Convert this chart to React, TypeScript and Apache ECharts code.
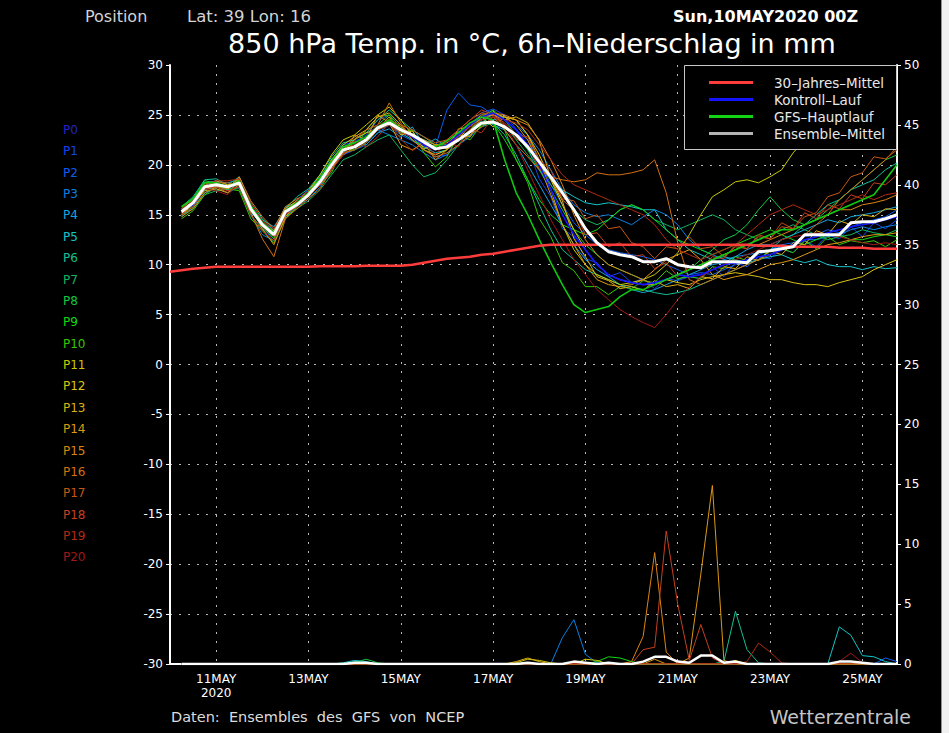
import React, { useEffect, useRef } from "react";
import * as echarts from "echarts";

const FONT = "'DejaVu Sans', 'Liberation Sans', sans-serif";

// time axis: 6-hourly steps from 10 MAY 2020 00Z (index 0) to 25 MAY 18Z (index 63)
const HOURS: string[] = Array.from({ length: 64 }, (_, i) => String(i * 6));
const TICK_INDEX = [4, 12, 20, 28, 36, 44, 52, 60];
const TICK_LABELS = ["11MAY\n2020", "13MAY", "15MAY", "17MAY", "19MAY", "21MAY", "23MAY", "25MAY"];

const MEMBER_NAMES = ["P0", "P1", "P2", "P3", "P4", "P5", "P6", "P7", "P8", "P9", "P10",
  "P11", "P12", "P13", "P14", "P15", "P16", "P17", "P18", "P19", "P20"];
const MEMBER_COLORS = ["#2424c4", "#1444f0", "#0c5ef0", "#0a80e0", "#12a6dc", "#12c4c8", "#10c092",
  "#10b460", "#12c842", "#12d812", "#34c800", "#c8c800", "#dcc412", "#dcae12", "#dc9812",
  "#dc8412", "#d27012", "#c45812", "#c44020", "#b02a14", "#a01818"];

// 850 hPa temperature (°C), index 1..63
const P1_T = [15.0,16.5,18.2,18.4,17.5,18.8,16.0,13.5,12.6,15.0,16.5,17.5,
  18.8,20.5,22.0,22.3,23.0,24.5,25.0,23.8,22.5,21.5,20.8,21.0,22.8,24.0,25.2,25.6,
  25.0,23.6,21.8,18.6,16.8,13.6,12.8,10.6,10.2,8.8,9.2,8.2,8.6,7.6,8.6,8.4,8.8,8.6,9.8,8.8,
  10.2,9.8,10.8,10.6,11.6,11.2,12.4,11.8,13.0,12.6,13.8,12.8,14.2,13.6,14.5];
const P2_T = [15.6,16.0,17.5,17.8,18.0,18.0,15.2,14.2,13.5,15.8,16.2,16.8,
  18.0,19.6,21.0,21.5,22.0,23.2,24.0,23.0,22.4,21.8,21.8,25.5,27.2,26.0,25.8,25.0,
  24.5,23.5,22.5,20.5,18.0,16.0,14.2,13.0,12.0,11.5,11.2,11.0,10.8,10.5,10.0,9.5,9.0,9.2,9.0,9.5,
  10.0,10.5,11.0,11.5,12.0,12.2,12.8,13.0,13.5,13.2,13.8,14.2,14.5,14.8,15.5];
const P3_T = [14.8,15.8,17.2,17.6,17.2,17.8,15.0,13.0,12.4,14.8,15.8,16.6,
  17.8,19.5,21.2,22.0,22.8,23.5,23.0,22.5,22.0,21.2,20.5,21.0,22.0,22.8,23.8,24.5,
  24.8,24.0,23.0,21.5,19.5,17.5,16.0,15.2,14.8,15.0,14.5,14.0,14.8,15.5,15.0,14.0,12.5,11.5,11.0,10.5,
  10.8,11.0,11.2,11.5,11.8,12.0,12.5,12.5,12.8,13.0,13.5,13.8,13.5,13.8,14.0];
const P4_T = [15.4,16.4,18.0,18.3,18.2,18.5,15.8,14.5,13.8,15.5,16.0,17.2,
  18.0,20.6,21.2,22.4,22.0,23.2,23.6,22.8,23.8,22.0,22.6,21.8,23.4,22.8,24.6,24.0,
  23.5,22.0,20.0,18.0,16.0,14.0,12.0,10.5,9.5,8.8,8.0,7.5,7.2,7.5,8.0,8.5,9.0,9.5,10.0,10.2,
  10.8,11.5,12.0,12.0,12.5,13.0,13.5,14.0,14.5,14.2,14.8,15.0,15.2,15.5,15.8];
const P5_T = [15.2,16.0,17.5,17.8,17.5,18.0,15.5,13.8,12.8,15.0,16.2,17.0,
  18.2,19.8,21.5,21.8,22.5,23.5,24.0,23.2,22.5,21.8,21.2,21.5,22.5,23.5,24.5,25.0,
  24.5,23.5,22.0,20.0,18.5,17.5,16.8,16.2,16.0,16.2,16.0,15.8,15.5,15.5,13.5,12.5,11.5,11.0,10.5,10.8,
  10.5,10.2,10.5,10.8,11.0,10.5,10.2,10.5,10.0,9.8,9.8,9.5,9.8,9.6,9.7];
const P6_T = [15.8,16.8,18.5,18.6,18.0,18.8,16.2,14.6,13.4,15.6,16.8,17.6,
  19.0,20.8,22.2,22.5,23.2,24.5,25.5,24.5,23.5,22.8,22.0,22.0,22.5,23.0,23.8,24.2,
  23.0,21.0,18.5,16.0,13.5,11.5,10.5,9.5,9.0,8.5,8.0,7.8,7.5,7.2,7.0,7.2,7.5,8.0,8.5,9.0,
  9.5,10.0,10.5,11.5,12.5,13.0,14.0,15.0,16.0,16.5,17.5,18.0,18.5,19.5,20.2];
const P7_T = [15.0,15.6,17.0,17.4,17.6,17.6,15.0,13.6,12.8,14.8,15.6,16.4,
  17.5,19.0,20.5,21.0,21.8,22.5,23.0,21.5,20.0,18.8,19.2,20.5,22.0,23.5,24.5,24.8,
  24.0,22.5,21.0,19.5,18.0,16.5,15.5,14.5,14.0,14.5,15.5,16.0,15.5,14.5,14.0,13.5,14.0,14.5,15.0,14.5,
  13.5,13.0,12.5,13.0,13.5,14.0,13.5,13.0,12.5,12.8,13.0,13.5,13.2,13.0,13.5];
const P8_T = [15.6,16.6,18.4,18.2,17.8,18.6,16.0,14.2,13.2,15.4,16.4,17.4,
  18.8,20.5,21.8,22.0,22.8,24.0,25.0,23.8,22.8,21.5,21.0,21.5,22.8,24.0,24.8,25.5,
  24.5,23.0,21.5,19.5,17.5,15.5,13.5,12.0,11.0,10.0,9.5,9.0,8.5,8.0,8.5,9.0,9.5,10.5,11.5,12.5,
  13.0,14.0,15.5,16.8,15.5,14.5,14.0,14.5,15.5,16.5,17.5,18.5,19.5,20.5,21.0];
const P9_T = [15.2,16.2,17.8,18.0,17.8,18.0,15.4,13.8,12.6,15.0,16.0,17.0,
  18.4,20.0,21.2,21.5,22.2,23.5,24.2,23.5,23.0,22.5,22.0,22.0,22.5,23.2,24.0,24.2,
  22.5,20.5,18.5,16.5,15.0,14.0,13.5,13.0,13.5,14.5,15.5,16.0,15.5,14.5,13.5,12.5,12.0,11.5,11.0,11.5,
  12.0,12.5,13.0,13.5,13.0,12.5,12.0,12.5,13.0,13.0,12.5,12.5,12.8,13.0,12.8];
const P10_T = [14.6,15.4,17.0,17.8,17.6,17.4,14.6,13.4,12.2,14.6,15.8,16.8,
  18.0,19.2,21.8,21.5,23.5,24.8,25.0,23.2,23.5,21.2,19.8,20.8,23.0,22.5,24.0,25.5,
  23.5,20.5,18.2,14.6,12.8,10.2,9.4,7.8,7.8,7.0,7.8,7.6,8.4,8.2,9.4,8.6,8.8,8.6,9.8,9.6,
  10.8,10.4,11.4,11.0,11.6,11.2,12.4,11.6,12.8,12.0,12.4,12.2,12.4,11.8,12.5];
const P11_T = [15.0,16.0,17.6,18.0,17.6,18.4,15.8,14.0,12.8,15.2,16.4,17.4,
  19.0,21.0,22.5,23.0,24.0,25.0,25.8,24.5,23.0,22.0,21.5,21.8,22.5,23.5,24.8,25.2,
  24.8,24.5,23.0,20.5,17.5,14.0,11.5,10.0,9.0,8.5,8.0,8.2,8.5,9.0,10.0,11.2,13.0,15.0,16.8,17.5,
  18.3,18.5,18.2,18.8,19.5,21.2,22.5,23.5,24.5,25.0,25.5,26.0,26.0,26.5,27.0];
const P12_T = [15.4,16.4,18.0,18.4,18.0,18.2,15.4,14.2,13.0,15.4,16.0,16.8,
  18.2,20.4,21.0,22.6,23.2,23.6,24.8,23.0,23.4,21.6,22.0,21.6,23.6,23.8,24.8,23.8,
  24.8,24.5,23.0,21.0,18.5,16.0,13.5,11.5,10.0,9.0,8.5,8.2,8.0,8.0,8.5,8.2,8.0,8.5,8.8,9.0,
  9.2,9.0,8.8,8.5,8.5,8.2,8.0,8.0,7.8,8.2,8.5,8.8,9.5,10.0,10.5];
const P13_T = [15.2,16.0,17.4,17.6,17.2,18.0,15.6,14.0,13.4,15.6,16.4,17.4,
  18.6,20.5,22.0,22.8,23.5,24.8,25.2,24.0,22.5,21.5,21.0,21.5,22.5,24.0,25.0,25.0,
  24.5,24.8,24.2,22.4,18.6,16.4,12.6,10.8,8.8,8.4,7.6,7.8,7.4,8.4,7.8,8.0,7.6,8.8,8.6,9.8,
  9.6,10.8,10.4,11.4,11.0,12.2,12.0,13.4,13.0,14.4,14.0,15.0,14.8,15.6,15.5];
const P14_T = [14.8,15.6,17.2,17.8,17.8,18.6,15.8,13.6,12.0,14.8,16.0,17.2,
  18.5,20.5,21.0,23.0,22.5,25.0,24.2,22.0,21.5,22.2,20.5,21.5,23.0,22.8,24.8,25.0,
  24.8,24.0,22.5,20.0,17.0,14.0,12.0,10.0,8.5,8.0,7.8,8.0,8.5,9.5,10.5,11.0,11.5,10.5,9.0,8.5,
  8.8,9.0,9.5,10.0,10.2,10.5,11.0,11.5,12.0,12.2,12.5,12.8,13.0,13.0,13.2];
const P15_T = [15.6,16.6,18.2,18.0,17.6,18.8,16.4,14.8,13.6,15.8,16.6,17.0,
  18.0,19.6,21.0,21.8,22.5,23.8,24.5,23.8,23.0,22.5,22.0,22.2,23.0,24.0,24.8,25.2,
  25.0,24.5,24.0,22.5,20.5,18.0,15.0,12.5,11.0,10.0,9.5,9.0,8.5,8.0,8.5,9.0,9.5,10.0,10.5,11.0,
  11.5,12.0,12.0,12.5,13.0,13.5,14.0,14.5,15.0,15.5,15.5,16.0,16.2,16.5,17.0];
const P16_T = [15.0,15.8,17.6,17.8,17.2,18.4,15.2,12.6,10.8,14.6,15.6,16.6,
  17.6,19.5,21.5,22.5,23.5,24.0,26.2,24.2,22.5,21.5,20.8,21.2,22.0,23.0,23.8,24.8,
  23.5,22.0,20.8,19.5,18.8,18.5,18.3,18.5,19.2,19.0,19.0,19.2,19.5,20.5,17.2,12.2,8.5,8.0,8.5,9.0,
  9.5,10.0,10.5,11.0,11.5,12.0,13.0,14.0,15.0,16.5,17.5,18.5,19.5,20.5,21.8];
const P17_T = [15.4,16.2,17.8,18.2,18.2,18.0,15.4,14.4,13.2,15.2,16.2,17.0,
  18.2,19.8,21.2,21.5,22.2,23.5,24.5,24.0,23.5,22.8,22.2,22.5,23.5,24.5,25.2,25.0,
  24.0,22.6,22.0,19.6,18.8,16.6,16.4,14.6,15.0,13.6,13.8,12.2,11.8,10.6,11.8,11.6,12.8,11.6,11.8,10.8,
  11.8,11.6,12.8,12.6,13.8,13.6,14.8,15.2,16.8,17.2,18.8,19.2,20.8,20.6,21.5];
const P18_T = [15.0,16.2,17.6,17.8,17.4,17.8,15.0,13.4,12.4,15.0,15.8,16.8,
  18.0,19.8,21.5,22.0,22.5,23.5,24.0,23.2,22.8,22.0,21.8,22.5,23.5,24.5,25.5,25.0,
  24.2,23.0,22.8,20.5,19.5,16.5,15.5,13.0,13.2,11.8,12.2,10.8,11.0,9.6,10.2,8.8,9.8,9.6,10.8,10.6,
  12.0,11.6,13.0,12.6,14.2,13.6,15.2,14.6,16.0,15.6,17.0,16.6,18.2,18.0,19.0];
const P19_T = [15.6,16.4,18.0,18.4,18.4,18.6,16.2,14.4,13.6,15.4,16.2,17.2,
  18.6,19.5,21.0,22.4,21.8,22.8,24.2,22.6,21.4,22.2,21.0,22.4,21.8,23.6,23.2,24.8,
  24.5,24.2,23.5,22.0,20.5,19.0,18.0,17.5,17.0,16.5,16.0,15.5,15.0,14.0,12.5,11.5,11.0,10.5,11.0,11.5,
  12.0,13.0,14.0,15.0,15.5,16.0,15.5,15.0,15.5,16.0,16.5,17.0,16.5,17.0,17.2];
const P20_T = [15.2,16.2,17.6,17.4,17.0,18.2,15.6,13.8,12.8,15.0,16.4,17.4,
  18.4,20.2,21.5,22.0,22.8,24.0,24.5,23.5,22.8,22.0,21.5,21.8,22.8,23.8,24.5,24.8,
  24.0,22.0,19.5,17.0,14.5,12.5,10.5,9.0,7.5,6.5,5.5,4.8,4.2,3.7,5.0,6.5,7.8,8.8,9.5,10.0,
  10.5,11.0,11.5,12.0,12.5,12.8,13.0,13.2,13.0,12.8,12.5,12.2,12.0,12.2,12.0];
const CONTROL_T = [15.4,16.0,17.8,18.0,17.8,18.2,15.6,14.0,13.0,15.2,16.0,17.0,
  18.2,20.0,21.5,21.8,22.5,23.8,24.2,23.5,22.8,22.0,21.5,22.0,23.0,24.0,24.8,25.2,
  24.5,23.5,22.0,20.0,17.5,15.0,13.0,11.5,10.0,9.0,8.5,8.2,8.0,8.2,8.5,9.0,8.8,9.0,9.5,10.0,
  10.2,10.5,10.8,11.0,11.5,12.0,12.5,12.8,13.2,13.5,13.8,14.0,14.2,14.5,14.8];
const GFS_T = [15.8,16.6,18.2,18.2,17.8,18.4,15.8,14.2,13.2,15.4,16.2,17.2,
  18.6,20.4,21.8,22.2,22.8,23.8,24.5,23.6,23.0,22.2,21.8,22.4,23.2,24.2,24.8,24.5,
  20.5,17.2,15.0,12.5,10.2,8.0,6.0,5.2,5.5,5.8,6.8,7.5,7.5,8.0,8.5,9.0,9.5,10.0,10.5,11.0,
  11.5,12.0,12.5,13.0,13.5,13.5,14.0,14.5,15.0,15.5,16.0,16.5,17.0,18.5,20.0];
const MEAN_T = [15.3,16.2,17.8,18.0,17.8,18.2,15.6,14.0,13.0,15.3,16.0,17.0,
  18.3,20.0,21.5,21.8,22.5,23.7,24.2,23.5,23.0,22.3,21.6,21.8,22.5,23.3,24.2,24.3,
  23.8,23.0,21.8,20.3,18.8,17.2,15.5,13.6,12.2,11.3,11.0,10.8,10.3,10.3,10.6,10.0,9.8,9.7,10.3,10.3,
  10.3,10.2,11.3,11.4,11.6,11.8,13.0,13.0,13.0,13.0,14.2,14.3,14.3,14.6,15.0];
// 30-year mean, index 0..63
const CLIM_T = [9.3,9.45,9.6,9.7,9.8,
  9.8,9.8,9.8,9.8,9.8,9.8,9.8,9.8,9.85,9.85,9.85,9.85,9.9,9.9,9.9,9.9,
  10.0,10.2,10.4,10.6,10.7,10.8,11.0,11.1,11.3,11.5,11.7,11.9,
  12.0,12.0,12.0,12.0,12.0,12.0,12.0,12.0,12.0,12.0,12.0,12.0,12.0,12.0,12.0,12.0,12.0,12.0,
  11.9,11.9,11.9,11.8,11.8,11.8,11.8,11.7,11.7,11.7,11.6,11.6,11.6];

// 6h precipitation (mm), index 1..63
const P2_RR = [0,0,0,0,0,0,0,0, 0,0,0,0,0,0,0,0, 0,0,0,0,0,0,0,0, 0,0,0,0,0,0,0,0,
  0,0,0,0,0,0,0,0, 0,0,0,0,0,0,0,0, 0,0,0,0,0,0,0,0, 0,0,0,0,0,0.5,0.2];
const P3_RR = [0,0,0,0,0,0,0,0, 0,0,0,0,0,0,0,0, 0,0,0,0,0,0,0,0, 0,0,0,0,0,0,0,0,
  0,2.2,3.7,0.8,0.1,0,0,0, 0,0,0,0,0,0,0,0, 0,0,0,0,0,0,0,0, 0,0,0,0,0,0,0];
const P5_RR = [0,0,0,0,0,0,0,0, 0,0,0,0,0,0,0.1,0.3, 0.2,0,0,0,0,0,0,0, 0,0,0,0,0,0,0,0,
  0,0,0,0,0,0,0,0, 0,0,0,0,0,0,0,0, 0,0,0,0,0,0,0,0, 0,3.1,2.4,0.7,0.6,0.2,0];
const P6_RR = [0,0,0,0,0,0,0,0, 0,0,0,0,0,0,0,0.2, 0,0,0,0,0,0,0,0, 0,0,0,0,0,0,0,0,
  0,0,0,0,0,0,0,0, 0,0,0,0,0,0,0,0.2, 4.4,1.2,0.1,0,0,0,0,0, 0,0,0,0,0,0,0];
const P8_RR = [0,0,0,0,0,0,0,0, 0,0,0,0,0,0,0,0.1, 0.4,0.1,0,0,0,0,0,0, 0,0,0,0,0,0,0,0,
  0,0,0,0,0,0,0,0, 0,0,0,0,0,0,0,0, 0,0,0,0,0,0,0,0, 0,0,0,0,0,0,0];
const P9_RR = [0,0,0,0,0,0,0,0, 0,0,0,0,0,0,0,0, 0,0,0,0,0,0,0,0, 0,0,0,0,0,0,0,0,
  0,0,0,0,0.2,0.6,0.5,0.2, 0,0,0,0,0,0,0,0, 0,0,0,0,0,0,0,0, 0,0,0,0,0,0,0];
const P11_RR = [0,0,0,0,0,0,0,0, 0,0,0,0,0,0,0,0, 0,0,0,0,0,0,0,0, 0,0,0,0,0,0.1,0.4,0.3,
  0.1,0,0,0.4,0.3,0,0,0, 0,0,0,0,0,0,0,0, 0.3,0,0,0,0,0,0,0, 0,0,0,0,0,0,0];
const P13_RR = [0,0,0,0,0,0,0,0, 0,0,0,0,0,0,0,0, 0,0,0,0,0,0,0,0, 0,0,0,0,0,0.2,0.5,0.2,
  0,0,0,0,0,0,0,0, 0,0,0,0,0,0,0,0, 0,0,0,0,0,0,0,0, 0,0,0,0,0,0,0];
const P14_RR = [0,0,0,0,0,0,0,0, 0,0,0,0,0,0,0,0, 0,0,0,0,0,0,0,0, 0,0,0,0,0,0,0,0,
  0,0,0,0,0,0,0,0, 0,0.4,0,0,0.5,7.5,14.9,0.3, 0,0,0,0,0,0,0,0, 0,0,0,0,0,0,0];
const P15_RR = [0,0,0,0,0,0,0,0, 0,0,0,0,0,0,0,0, 0,0,0,0,0,0,0,0, 0,0,0,0,0,0,0,0,
  0,0,0,0,0,0,0,0.2, 2.3,9.3,1.0,0,0,0,0,0, 0,0,0,0,0,0,0,0, 0,0,0,0,0,0,0];
const P18_RR = [0,0,0,0,0,0,0,0, 0,0,0,0,0,0,0,0, 0,0,0,0,0,0,0,0, 0,0,0,0,0,0,0,0,
  0,0,0,0,0,0,0,0, 1.2,1.4,11.1,5.0,0.3,3.3,0.5,0, 0,0,0,0,0,0,0,0, 0,0,0,0,0,0,0];
const P19_RR = [0,0,0,0,0,0,0,0, 0,0,0,0,0,0,0,0, 0,0,0,0,0,0,0,0, 0,0,0,0,0,0,0,0,
  0,0,0,0,0,0,0,0, 0,0,0,0,0,0,0,0, 0,0.2,1.75,1.0,0.1,0,0,0, 0,0,0,0,0,0,0];
const P20_RR = [0,0,0,0,0,0,0,0, 0,0,0,0,0,0,0,0, 0,0,0,0,0,0,0,0, 0,0,0,0,0,0,0,0,
  0,0,0,0,0,0,0,0, 0,0,0,0,0,0,0,0, 0,0,0,0,0,0,0,0, 0,0.2,0.9,0.1,0,0,0];
const MEAN_RR = [0,0,0,0,0,0,0,0, 0,0,0,0,0,0,0,0.1, 0.1,0,0,0,0,0,0,0, 0,0,0,0,0,0,0.1,0,
  0,0,0.2,0.1,0,0.1,0,0, 0.2,0.6,0.6,0.2,0.1,0.7,0.7,0.1, 0.2,0,0,0,0,0,0,0, 0,0.2,0.2,0.1,0,0,0];

const LEGEND_NAMES = ["30\u2013Jahres\u2013Mittel", "Kontroll\u2013Lauf", "GFS\u2013Hauptlauf", "Ensemble\u2013Mittel"];
const LEGEND_COLORS = ["#ff3c3c", "#1414ff", "#14d214", "#b4b4b4"];

export default function App() {
  const ref = useRef<HTMLDivElement>(null);
  useEffect(() => {
    const chart = echarts.init(ref.current!, null, { renderer: "svg" });
    const pad = (a: number[]) => [null, ...a];
    const tempMembers = [P1_T, P2_T, P3_T, P4_T, P5_T, P6_T, P7_T, P8_T, P9_T, P10_T,
      P11_T, P12_T, P13_T, P14_T, P15_T, P16_T, P17_T, P18_T, P19_T, P20_T];
    const rain: [number, number[]][] = [[2, P2_RR], [3, P3_RR], [5, P5_RR], [6, P6_RR], [8, P8_RR],
      [9, P9_RR], [11, P11_RR], [13, P13_RR], [14, P14_RR], [15, P15_RR], [18, P18_RR],
      [19, P19_RR], [20, P20_RR]];
    const mk = (name: string, data: any[], color: string, width: number, yAxisIndex: number, z: number) => ({
      type: "line", name, data, yAxisIndex, symbol: "none", silent: true, z,
      lineStyle: { color, width }, itemStyle: { color },
    });
    const series: any[] = [];
    tempMembers.forEach((d, k) => series.push(mk(MEMBER_NAMES[k + 1], pad(d), MEMBER_COLORS[k + 1], 1, 0, 2)));
    series.push(mk("Kontroll-Lauf", pad(CONTROL_T), "#1414ff", 1.6, 0, 3));
    series.push(mk("GFS-Hauptlauf", pad(GFS_T), "#10c810", 1.6, 0, 3));
    series.push(mk("30-Jahres-Mittel", CLIM_T, "#ff3c3c", 2.5, 0, 4));
    series.push(mk("Ensemble-Mittel", pad(MEAN_T), "#ffffff", 3, 0, 5));
    rain.forEach(([k, d]) => series.push(mk(MEMBER_NAMES[k] + " RR", pad(d), MEMBER_COLORS[k], 1, 1, 6)));
    series.push(mk("Ensemble-Mittel RR", pad(MEAN_RR), "#ffffff", 2.5, 1, 7));

    const tickFn = (index: number) => TICK_INDEX.indexOf(index) >= 0;
    const dotted = { color: "#b8b8b8", width: 1, type: [2, 7] };

    const graphic: any[] = [
      { type: "rect", shape: { x: 941, y: 0, width: 8, height: 733 }, style: { fill: "#f0f0f0" }, z: 100 },
      { type: "line", shape: { x1: 941.5, y1: 0, x2: 941.5, y2: 733 }, style: { stroke: "#909090", lineWidth: 1 }, z: 101 },
      { type: "text", x: 85, y: 16, style: { text: "Position", fill: "#d4d4d4", font: `16px ${FONT}`, verticalAlign: "middle" }, z: 100 },
      { type: "text", x: 187, y: 16, style: { text: "Lat: 39 Lon: 16", fill: "#d4d4d4", font: `16.5px ${FONT}`, verticalAlign: "middle" }, z: 100 },
      { type: "text", x: 858, y: 16, style: { text: "Sun,10MAY2020 00Z", fill: "#ffffff", font: `bold 16px ${FONT}`, align: "right", verticalAlign: "middle" }, z: 100 },
      { type: "text", x: 532, y: 43, style: { text: "850 hPa Temp. in \u00B0C, 6h\u2013Niederschlag in mm", fill: "#ffffff", font: `27px ${FONT}`, align: "center", verticalAlign: "middle" }, z: 100 },
      { type: "text", x: 171, y: 717, style: { text: "Daten:  Ensembles  des  GFS  von  NCEP", fill: "#dcdcdc", font: `14.5px ${FONT}`, verticalAlign: "middle" }, z: 100 },
      { type: "text", x: 911, y: 717, style: { text: "Wetterzentrale", fill: "#c4c4c4", font: `19px ${FONT}`, align: "right", verticalAlign: "middle" }, z: 100 },
      { type: "rect", shape: { x: 684.5, y: 65.5, width: 212, height: 84 }, style: { fill: "#000000", stroke: "#c8c8c8", lineWidth: 1 }, z: 100 },
    ];
    LEGEND_NAMES.forEach((name, k) => {
      const y = 82.5 + k * 17;
      graphic.push({ type: "line", shape: { x1: 709, y1: y, x2: 753, y2: y }, style: { stroke: LEGEND_COLORS[k], lineWidth: 3 }, z: 101 });
      graphic.push({ type: "text", x: 774, y, style: { text: name, fill: "#e8e8e8", font: `13.5px ${FONT}`, verticalAlign: "middle" }, z: 101 });
    });
    MEMBER_NAMES.forEach((name, k) => {
      graphic.push({ type: "text", x: 63, y: 130 + k * 21.37, style: { text: name, fill: MEMBER_COLORS[k], font: `12px ${FONT}`, verticalAlign: "middle" }, z: 100 });
    });

    chart.setOption({
      animation: false,
      backgroundColor: "#000000",
      textStyle: { fontFamily: FONT },
      grid: { left: 170, right: 52, top: 65, bottom: 69, containLabel: false },
      xAxis: {
        type: "category", data: HOURS, boundaryGap: false,
        axisLine: { show: true, onZero: false, lineStyle: { color: "#ffffff", width: 2 } },
        axisTick: { show: false },
        axisLabel: {
          interval: tickFn, color: "#ffffff", fontSize: 12, margin: 8, lineHeight: 14,
          fontFamily: FONT,
          formatter: (_v: string, index: number) => {
            const p = TICK_INDEX.indexOf(index);
            return p >= 0 ? TICK_LABELS[p] : "";
          },
        },
        splitLine: { show: true, interval: tickFn, lineStyle: dotted },
      },
      yAxis: [
        {
          type: "value", min: -30, max: 30, interval: 5, position: "left",
          axisLine: { show: true, lineStyle: { color: "#ffffff", width: 2 } },
          axisTick: { show: true, length: 4, lineStyle: { color: "#ffffff" } },
          axisLabel: { color: "#ffffff", fontSize: 12, margin: 7, fontFamily: FONT },
          splitLine: { show: true, showMinLine: false, showMaxLine: false, lineStyle: dotted },
        },
        {
          type: "value", min: 0, max: 50, interval: 5, position: "right",
          axisLine: { show: true, lineStyle: { color: "#ffffff", width: 2 } },
          axisTick: { show: true, length: 4, lineStyle: { color: "#ffffff" } },
          axisLabel: { color: "#ffffff", fontSize: 12, margin: 7, fontFamily: FONT },
          splitLine: { show: false },
        },
      ],
      series,
      graphic,
    });
    return () => chart.dispose();
  }, []);
  return <div ref={ref} style={{ position: "fixed", left: 0, top: 0, width: 949, height: 733 }} />;
}
